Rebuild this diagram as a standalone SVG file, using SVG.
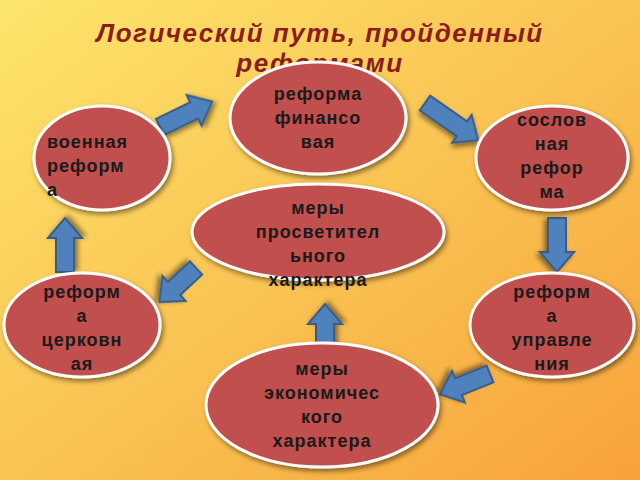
<svg xmlns="http://www.w3.org/2000/svg" width="640" height="480" viewBox="0 0 640 480">
<defs>
<linearGradient id="bg" x1="0" y1="0" x2="1" y2="1">
<stop offset="0" stop-color="#fde56c"/><stop offset="1" stop-color="#f7a23a"/>
</linearGradient>
<filter id="sh" x="-20%" y="-20%" width="140%" height="140%"><feDropShadow dx="2" dy="3" stdDeviation="2.5" flood-opacity="0.45"/></filter>
</defs>
<style>
.n{fill:#c0504d;stroke:#fff;stroke-width:3;filter:url(#sh)}
.t{font-family:"Liberation Sans",Arial,sans-serif;font-weight:bold;font-size:18px;fill:#1a1a1a;text-anchor:middle;letter-spacing:1px}
.a{fill:#4f81bd;stroke:#385d8a;stroke-width:2;filter:url(#sh)}
.ti{font-family:"Liberation Sans",Arial,sans-serif;font-weight:bold;font-style:italic;font-size:26px;fill:#8b1c1c;text-anchor:middle;letter-spacing:1.5px}
</style>
<rect width="640" height="480" fill="url(#bg)"/>
<text class="ti" x="320" y="42">Логический путь, пройденный</text>
<text class="ti" x="320" y="72">реформами</text>
<g id="connectors">
<path class="a" transform="translate(160,127) rotate(-26)" d="M0,-9 H38 V-17 L58,0 L38,17 V9 H0 Z"/>
<path class="a" transform="translate(425,103) rotate(35)" d="M0,-9 H45 V-17 L65,0 L45,17 V9 H0 Z"/>
<path class="a" transform="translate(557,218) rotate(90)" d="M0,-9 H34 V-17 L54,0 L34,17 V9 H0 Z"/>
<path class="a" transform="translate(490,374) rotate(158)" d="M0,-9 H34 V-17 L54,0 L34,17 V9 H0 Z"/>
<path class="a" transform="translate(325,348) rotate(-90)" d="M0,-9 H24 V-17 L44,0 L24,17 V9 H0 Z"/>
<path class="a" transform="translate(196,268) rotate(137)" d="M0,-9 H30 V-17 L50,0 L30,17 V9 H0 Z"/>
<path class="a" transform="translate(65,272) rotate(-90)" d="M0,-9 H34 V-17 L54,0 L34,17 V9 H0 Z"/>
</g>
<g id="n1"><ellipse class="n" cx="318" cy="118" rx="88" ry="56"/>
<text class="t" x="318" y="100">реформа</text><text class="t" x="318" y="124">финансо</text><text class="t" x="318" y="148">вая</text></g>
<g id="n2"><ellipse class="n" cx="102" cy="158" rx="68" ry="52"/>
<text class="t" x="47" y="148" style="text-anchor:start">военная</text><text class="t" x="47" y="172" style="text-anchor:start">реформ</text><text class="t" x="47" y="196" style="text-anchor:start">а</text></g>
<g id="n3"><ellipse class="n" cx="552" cy="158" rx="76" ry="52"/>
<text class="t" x="552" y="126">сослов</text><text class="t" x="552" y="150">ная</text><text class="t" x="552" y="174">рефор</text><text class="t" x="552" y="198">ма</text></g>
<g id="n4"><ellipse class="n" cx="318" cy="232" rx="126" ry="48"/>
<text class="t" x="318" y="214">меры</text><text class="t" x="318" y="238">просветител</text><text class="t" x="318" y="262">ьного</text><text class="t" x="318" y="286">характера</text></g>
<g id="n5"><ellipse class="n" cx="82" cy="325" rx="78" ry="52"/>
<text class="t" x="82" y="298">реформ</text><text class="t" x="82" y="322">а</text><text class="t" x="82" y="346">церковн</text><text class="t" x="82" y="370">ая</text></g>
<g id="n6"><ellipse class="n" cx="552" cy="325" rx="82" ry="52"/>
<text class="t" x="552" y="298">реформ</text><text class="t" x="552" y="322">а</text><text class="t" x="552" y="346">управле</text><text class="t" x="552" y="370">ния</text></g>
<g id="n7"><ellipse class="n" cx="322" cy="405" rx="116" ry="62"/>
<text class="t" x="322" y="375">меры</text><text class="t" x="322" y="399">экономичес</text><text class="t" x="322" y="423">кого</text><text class="t" x="322" y="447">характера</text></g>
</svg>
